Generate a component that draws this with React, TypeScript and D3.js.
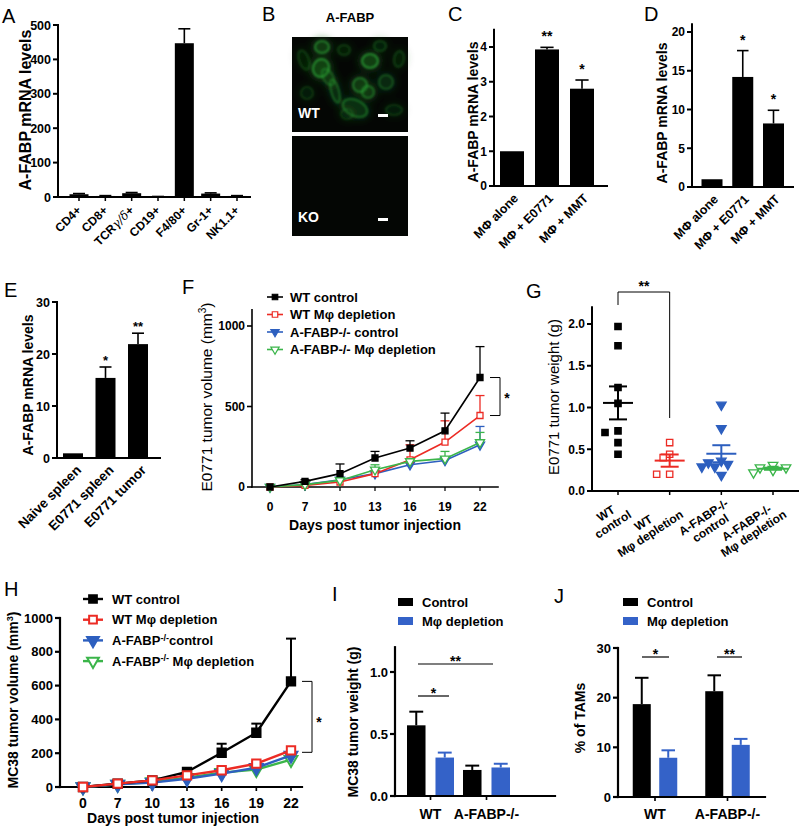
import React from "react";
import * as d3 from "d3";

const FONT = "'Liberation Sans', Arial, Helvetica, sans-serif";
const RED = "#ec2b24";
const BLUE = "#2d5fbf";
const GREEN = "#3bb54a";
const BARBLUE = "#3462c8";

// ---------- Panel A
const aCats = ["CD4+", "CD8+", "TCRγ/δ+", "CD19+", "F4/80+", "Gr-1+", "NK1.1+"];
const aVals = [8, 3, 11, 1, 447, 10, 3];
const aErr = [2, 1, 2, 0.5, 42, 2, 1];
const aTicks = [0, 100, 200, 300, 400, 500];

// ---------- Panel C
const cCats = ["MΦ alone", "MΦ + E0771", "MΦ + MMT"];
const cVals = [1, 3.93, 2.8];
const cErr = [0, 0.06, 0.25];
const cStars = ["", "**", "*"];
const cTicks = [0, 1, 2, 3, 4];

// ---------- Panel D
const dCats = ["MΦ alone", "MΦ + E0771", "MΦ + MMT"];
const dVals = [1, 14.2, 8.2];
const dErr = [0, 3.4, 1.7];
const dStars = ["", "*", "*"];
const dTicks = [0, 5, 10, 15, 20];

// ---------- Panel E
const eCats = ["Naive spleen", "E0771 spleen", "E0771 tumor"];
const eVals = [0.9, 15.4, 21.9];
const eErr = [0, 2.1, 2.1];
const eStars = ["", "*", "**"];
const eTicks = [0, 10, 20, 30];

// ---------- Panel F
const fDays = ["0", "7", "10", "13", "16", "19", "22"];
const fNames = ["WT control", "WT Mφ depletion", "A-FABP-/- control", "A-FABP-/- Mφ depletion"];
const fWT = [0, 35, 83, 180, 242, 349, 680];
const fWTErr = [0, 10, 60, 41, 45, 110, 192];
const fWTM = [0, 10, 31, 83, 169, 279, 444];
const fWTMErr = [0, 5, 10, 20, 93, 132, 124];
const fKO = [0, 15, 45, 83, 138, 165, 262];
const fKOErr = [0, 5, 10, 10, 15, 20, 114];
const fKOM = [0, 15, 41, 107, 159, 176, 277];
const fKOMErr = [0, 5, 10, 31, 15, 45, 62];
const fTicks = [0, 500, 1000];

// ---------- Panel G
const gCats = ["WT|control", "WT|Mφ depletion", "A-FABP-/-|control", "A-FABP-/-|Mφ depletion"];
const gWT = [1.97, 1.74, 1.24, 1.05, 0.72, 0.7, 0.58, 0.44];
const gWTM = [0.58, 0.44, 0.4, 0.2, 0.2];
const gKO = [1.03, 0.75, 0.36, 0.34, 0.32, 0.29, 0.29, 0.19];
const gKOM = [0.31, 0.28, 0.28, 0.26, 0.25, 0.22];
const gTicks = [0, 0.5, 1, 1.5, 2];

// ---------- Panel H
const hDays = ["0", "7", "10", "13", "16", "19", "22"];
const hNames = ["WT control", "WT Mφ depletion", "A-FABP^-/-^control", "A-FABP^-/-^ Mφ depletion"];
const hWT = [0, 20, 39, 89, 203, 321, 625];
const hWTErr = [0, 5, 8, 10, 53, 54, 253];
const hWTM = [0, 20, 39, 69, 99, 138, 217];
const hWTMErr = [0, 5, 5, 8, 10, 12, 15];
const hKO = [0, 16, 26, 49, 79, 114, 187];
const hKOErr = [0, 3, 5, 6, 8, 10, 12];
const hKOM = [0, 16, 30, 55, 85, 103, 162];
const hKOMErr = [0, 3, 5, 6, 8, 10, 12];
const hTicks = [0, 200, 400, 600, 800, 1000];

// ---------- Panels I & J
const ijGroups = ["WT", "A-FABP-/-"];
const ijSeries = ["Control", "Mφ depletion"];
const iControl = [0.57, 0.21];
const iControlErr = [0.11, 0.035];
const iDep = [0.31, 0.23];
const iDepErr = [0.04, 0.03];
const iTicks = [0, 0.5, 1.0];
const jControl = [18.7, 21.3];
const jControlErr = [5.3, 3.2];
const jDep = [7.9, 10.5];
const jDepErr = [1.5, 1.2];
const jTicks = [0, 10, 20, 30];

// ---------- Panel B micrograph cells (relative to image): cx, cy, rx, ry, brightness, rotation
const cells = [
  [30, 10, 7, 6, 1, 0], [29, 31, 8, 9, 1.1, 20], [78, 24, 8, 7, 1.1, 0], [68, 48, 7, 7, 0.9, 0],
  [76, 55, 6, 6, 0.8, 0], [94, 45, 7, 7, 0.6, 0], [107, 22, 5, 8, 0.4, 10], [12, 23, 5, 10, 0.4, -20],
  [43, 54, 4, 12, 0.7, -15], [63, 71, 13, 8, 0.75, 25], [55, 77, 6, 5, 0.35, 0], [102, 73, 8, 5, 0.35, 0],
  [15, 56, 6, 6, 0.35, 0], [52, 13, 6, 5, 0.4, 0], [88, 9, 6, 5, 0.45, 0], [36, 40, 5, 9, 0.6, -30],
];

function YAxis({ x, y, ticks, top, fs = 12, weight = "bold", sw = 2, fmt = (d: number) => String(d), tl = 5 }: any) {
  const d0 = y.domain()[0];
  return (
    <g>
      <line x1={x} x2={x} y1={y(d0)} y2={y(top)} stroke="#000" strokeWidth={sw} strokeLinecap="square" />
      {ticks.map((t: number) => (
        <g key={t}>
          <line x1={x - tl} x2={x} y1={y(t)} y2={y(t)} stroke="#000" strokeWidth={sw} />
          <text x={x - tl - 2} y={y(t)} dy="0.36em" textAnchor="end" fontSize={fs} fontWeight={weight}>{fmt(t)}</text>
        </g>
      ))}
    </g>
  );
}

function XBase({ y, x0, x1, ticks = [], sw = 2, tl = 4 }: any) {
  return (
    <g>
      <line x1={x0} x2={x1} y1={y} y2={y} stroke="#000" strokeWidth={sw} strokeLinecap="square" />
      {ticks.map((t: number, i: number) => (
        <line key={i} x1={t} x2={t} y1={y} y2={y + tl} stroke="#000" strokeWidth={sw * 0.75} />
      ))}
    </g>
  );
}

function BarsWithErr({ xs, vals, errs, y, w, fill = "#000", capW, sw = 1.6 }: any) {
  return (
    <g>
      {vals.map((v: number, i: number) => {
        const cx = xs[i];
        const top = y(v + errs[i]);
        return (
          <g key={i}>
            {errs[i] > 0 && (
              <g stroke={fill} strokeWidth={sw}>
                <line x1={cx} x2={cx} y1={y(v)} y2={top} />
                <line x1={cx - capW / 2} x2={cx + capW / 2} y1={top} y2={top} />
              </g>
            )}
            <rect x={cx - w / 2} y={y(v)} width={w} height={y(0) - y(v)} fill={fill} />
          </g>
        );
      })}
    </g>
  );
}

function labelParts(s: string) {
  const parts = s.split(/([γδ]\/[γδ])/);
  return parts.map((p, i) =>
    /[γδ]/.test(p) ? (
      <tspan key={i} fontFamily="'DejaVu Serif', serif" fontStyle="italic" fontWeight="normal">{p}</tspan>
    ) : (
      <tspan key={i}>{p}</tspan>
    )
  );
}

function RotLabels({ cats, xs, y, dx, angle = -45, fs = 12 }: any) {
  return (
    <g>
      {cats.map((c: string, i: number) => (
        <text key={i} transform={`translate(${xs[i] + dx},${y}) rotate(${angle})`} textAnchor="end" fontSize={fs} fontWeight="bold">
          {labelParts(c)}
        </text>
      ))}
    </g>
  );
}

function Stars({ xs, stars, y, vals, errs, off, fs = 14 }: any) {
  return (
    <g>
      {stars.map((s: string, i: number) =>
        s ? (
          <text key={i} x={xs[i]} y={y(vals[i] + errs[i]) - off} textAnchor="middle" fontSize={fs} fontWeight="bold">{s}</text>
        ) : null
      )}
    </g>
  );
}

function symPath(shape: string, size: number) {
  return d3.symbol().type(shape === "sq" ? d3.symbolSquare : d3.symbolTriangle).size(size)() as string;
}

function Marker({ x, y, shape, open, color, size, sw }: any) {
  const rot = shape === "tri" ? " rotate(180)" : "";
  return (
    <path d={symPath(shape, size)} transform={`translate(${x},${y})${rot}`} fill={open ? "#fff" : color} stroke={color} strokeWidth={sw} />
  );
}

function LinePanel({ days, series, x, y, capW, lw, msize, msw, esw }: any) {
  const line = d3.line<number>().x((_, i) => x(days[i])).y((d) => y(d));
  return (
    <g>
      {series.map((s: any, k: number) => (
        <g key={k}>
          {s.vals.map((v: number, i: number) =>
            s.errs[i] > 0 ? (
              <g key={i} stroke={s.color} strokeWidth={esw}>
                <line x1={x(days[i])} x2={x(days[i])} y1={y(v)} y2={y(v + s.errs[i])} />
                <line x1={x(days[i]) - capW / 2} x2={x(days[i]) + capW / 2} y1={y(v + s.errs[i])} y2={y(v + s.errs[i])} />
              </g>
            ) : null
          )}
          <path d={line(s.vals) as string} fill="none" stroke={s.color} strokeWidth={lw} />
          {s.vals.map((v: number, i: number) => (
            <Marker key={i} x={x(days[i])} y={y(v)} shape={s.shape} open={s.open} color={s.color} size={msize} sw={msw} />
          ))}
        </g>
      ))}
    </g>
  );
}

function renderName(n: string) {
  const parts = n.split("^");
  return parts.map((p, i) =>
    i === 1 ? (
      <tspan key={i} fontSize="0.7em" dy="-0.5em">{p}</tspan>
    ) : (
      <tspan key={i} dy={i === 2 ? "0.35em" : undefined}>{p}</tspan>
    )
  );
}

function Legend({ series, names, x, y0, step, lineW, textX, fs, lw, msize, msw }: any) {
  return (
    <g>
      {series.map((s: any, k: number) => {
        const yy = y0 + k * step;
        return (
          <g key={k}>
            <line x1={x} x2={x + lineW} y1={yy} y2={yy} stroke={s.color} strokeWidth={lw} />
            <Marker x={x + lineW / 2} y={yy} shape={s.shape} open={s.open} color={s.color} size={msize} sw={msw} />
            <text x={textX} y={yy} dy="0.36em" fontSize={fs} fontWeight="bold">{renderName(names[k])}</text>
          </g>
        );
      })}
    </g>
  );
}

function PanelA() {
  const x = d3.scalePoint<string>().domain(aCats).range([79, 237]);
  const y = d3.scaleLinear().domain([0, 500]).range([197, 25]);
  const xs = aCats.map((c) => x(c) as number);
  return (
    <g>
      <text x={2} y={23} fontSize={20}>A</text>
      <text transform="translate(31,110) rotate(-90)" textAnchor="middle" fontSize={16} fontWeight="bold">A-FABP mRNA levels</text>
      <BarsWithErr xs={xs} vals={aVals} errs={aErr} y={y} w={19} capW={12} />
      <YAxis x={58} y={y} ticks={aTicks} top={500} fs={12.5} />
      <XBase y={197} x0={58} x1={250} ticks={xs} />
      <RotLabels cats={aCats} xs={xs} y={211} dx={3} fs={12} />
    </g>
  );
}

function PanelB() {
  const img = (ox: number, oy: number, h: number, label: string, green: boolean) => (
    <g transform={`translate(${ox},${oy})`}>
      <rect width={116} height={h} fill="#040604" />
      {green && (
        <g>
          <g filter="url(#glowBig)">
            {cells.map((c, i) => (
              <ellipse key={i} cx={c[0]} cy={c[1]} rx={c[2] + 5} ry={c[3] + 5} transform={`rotate(${c[5]},${c[0]},${c[1]})`} fill="#175c1c" fillOpacity={0.3 * c[4]} />
            ))}
          </g>
          <g filter="url(#glow)">
            {cells.map((c, i) => (
              <ellipse key={i} cx={c[0]} cy={c[1]} rx={c[2]} ry={c[3]} transform={`rotate(${c[5]},${c[0]},${c[1]})`} fill="#1b7a25" fillOpacity={0.28 * c[4]} stroke="#2ea838" strokeOpacity={Math.min(0.9, 0.65 * c[4])} strokeWidth={2.2} />
            ))}
          </g>
        </g>
      )}
      <text x={6} y={h - 14} fill="#fff" fontSize={14} fontWeight="bold">{label}</text>
      <rect x={86} y={h - 18} width={10} height={3} fill="#fff" />
    </g>
  );
  return (
    <g>
      <text x={262} y={21} fontSize={20}>B</text>
      <text x={350} y={22} textAnchor="middle" fontSize={13} fontWeight="bold">A-FABP</text>
      {img(292, 37, 95, "WT", true)}
      {img(292, 136, 100, "KO", false)}
    </g>
  );
}

function SmallBarPanel({ letter, lx, cats, vals, errs, stars, ticks, top, axisX, xEnd, centers, y0, yTop, bw, labelX, labelY }: any) {
  const x = d3.scalePoint<string>().domain(cats).range(centers);
  const y = d3.scaleLinear().domain([0, ticks[ticks.length - 1]]).range([y0, yTop]);
  const xs = cats.map((c: string) => x(c) as number);
  return (
    <g>
      <text x={lx} y={21} fontSize={20}>{letter}</text>
      <text transform={`translate(${labelX},${labelY}) rotate(-90)`} textAnchor="middle" fontSize={14} fontWeight="bold">A-FABP mRNA levels</text>
      <BarsWithErr xs={xs} vals={vals} errs={errs} y={y} w={bw} capW={bw * 0.55} />
      <YAxis x={axisX} y={y} ticks={ticks} top={top} fs={12} />
      <XBase y={y0} x0={axisX} x1={xEnd} ticks={[]} />
      <Stars xs={xs} stars={stars} y={y} vals={vals} errs={errs} off={6} fs={14} />
      <RotLabels cats={cats} xs={xs} y={y0 + 13} dx={7} fs={12.5} />
    </g>
  );
}

function PanelE() {
  const x = d3.scalePoint<string>().domain(eCats).range([73, 138]);
  const y = d3.scaleLinear().domain([0, 30]).range([458, 302]);
  const xs = eCats.map((c) => x(c) as number);
  return (
    <g>
      <text x={4} y={297} fontSize={20}>E</text>
      <text transform="translate(33,385) rotate(-90)" textAnchor="middle" fontSize={14} fontWeight="bold">A-FABP mRNA levels</text>
      <BarsWithErr xs={xs} vals={eVals} errs={eErr} y={y} w={20} capW={12} />
      <YAxis x={57} y={y} ticks={eTicks} top={30} fs={12.5} />
      <XBase y={458} x0={57} x1={160} ticks={[]} />
      <Stars xs={xs} stars={eStars} y={y} vals={eVals} errs={eErr} off={2} fs={13} />
      <RotLabels cats={eCats} xs={xs} y={471} dx={9} fs={13.5} />
    </g>
  );
}

function PanelF() {
  const x = d3.scalePoint<string>().domain(fDays).range([270, 480]);
  const y = d3.scaleLinear().domain([0, 1000]).range([487, 326]);
  const series = [
    { vals: fKO, errs: fKOErr, color: BLUE, shape: "tri", open: false },
    { vals: fWTM, errs: fWTMErr, color: RED, shape: "sq", open: true },
    { vals: fKOM, errs: fKOMErr, color: GREEN, shape: "tri", open: true },
    { vals: fWT, errs: fWTErr, color: "#000", shape: "sq", open: false },
  ];
  const legendSeries = [series[3], series[1], series[0], series[2]];
  return (
    <g>
      <text x={182} y={294} fontSize={20}>F</text>
      <text transform="translate(212,397) rotate(-90)" textAnchor="middle" fontSize={15.5}>
        E0771 tumor volume (mm<tspan fontSize="0.65em" dy="-0.6em">3</tspan><tspan dy="0.39em">)</tspan>
      </text>
      <YAxis x={252} y={y} ticks={fTicks} top={1100} fs={12} sw={1.6} />
      <XBase y={487} x0={252} x1={498} ticks={fDays.map((d) => x(d) as number)} sw={1.6} />
      {fDays.map((d) => (
        <text key={d} x={x(d)} y={511} textAnchor="middle" fontSize={12} fontWeight="bold">{d}</text>
      ))}
      <text x={375} y={530} textAnchor="middle" fontSize={14} fontWeight="bold">Days post tumor injection</text>
      <LinePanel days={fDays} series={series} x={x} y={y} capW={9} lw={1.6} msize={36} msw={1.3} esw={1.3} />
      <g stroke="#000" strokeWidth={1} fill="none">
        <path d={`M490,${y(fWT[6])}H500V${y(fWTM[6])}H490`} />
      </g>
      <text x={507} y={403} textAnchor="middle" fontSize={14} fontWeight="bold">*</text>
      <Legend series={legendSeries} names={fNames} x={267} y0={297} step={17.5} lineW={16} textX={290} fs={13} lw={1.6} msize={30} msw={1.2} />
    </g>
  );
}

function dodge(vals: number[], y: any, minD: number, stepX: number) {
  const placed: { yy: number; dx: number }[] = [];
  return vals.map((v) => {
    const yy = y(v);
    const cands = [0, -1, 1, -2, 2, -3, 3];
    let chosen = 0;
    for (const c of cands) {
      const dx = c * stepX;
      if (placed.every((p) => Math.hypot(p.yy - yy, p.dx - dx) >= minD)) {
        chosen = dx;
        break;
      }
    }
    placed.push({ yy, dx: chosen });
    return chosen;
  });
}

function PanelG() {
  const x = d3.scalePoint<string>().domain(gCats).range([618, 773]);
  const y = d3.scaleLinear().domain([0, 2]).range([491, 324]);
  const groups = [
    { vals: gWT, color: "#000", shape: "sq", open: false },
    { vals: gWTM, color: RED, shape: "sq", open: true },
    { vals: gKO, color: BLUE, shape: "tri", open: false },
    { vals: gKOM, color: GREEN, shape: "tri", open: true },
  ];
  const fmt = d3.format(".1f");
  return (
    <g>
      <text x={526} y={298} fontSize={20}>G</text>
      <text transform="translate(559,397) rotate(-90)" textAnchor="middle" fontSize={15}>E0771 tumor weight (g)</text>
      <YAxis x={592} y={y} ticks={gTicks} top={2.2} fs={12} fmt={fmt} />
      <XBase y={491} x0={592} x1={798} ticks={gCats.map((c) => x(c) as number)} />
      {groups.map((g, k) => {
        const cx = x(gCats[k]) as number;
        const mean = d3.mean(g.vals) as number;
        const sd = d3.deviation(g.vals) as number;
        const sem = sd / Math.sqrt(g.vals.length);
        const offs = dodge(g.vals, y, 7, 6.5);
        return (
          <g key={k}>
            {g.vals.map((v, i) => (
              <Marker key={i} x={cx + offs[i]} y={y(v)} shape={g.shape} open={g.open} color={g.color} size={40} sw={1.3} />
            ))}
            <g stroke={g.color} strokeWidth={2}>
              <line x1={cx - 15} x2={cx + 15} y1={y(mean)} y2={y(mean)} />
              <line x1={cx - 9} x2={cx + 9} y1={y(mean + sem)} y2={y(mean + sem)} />
              <line x1={cx - 9} x2={cx + 9} y1={y(mean - sem)} y2={y(mean - sem)} />
              <line x1={cx} x2={cx} y1={y(mean + sem)} y2={y(mean - sem)} />
            </g>
          </g>
        );
      })}
      <path d={`M${x(gCats[0])},305V292H${x(gCats[1])}V418`} fill="none" stroke="#000" strokeWidth={1} />
      <text x={644} y={291} textAnchor="middle" fontSize={14} fontWeight="bold">**</text>
      {gCats.map((c, k) => {
        const lines = c.split("|");
        const maxLen = Math.max(...lines.map((l) => l.length));
        const cxp = -maxLen * 3.4;
        return (
          <text key={k} transform={`translate(${(x(c) as number) + 10},${504}) rotate(-33)`} fontSize={12} fontWeight="bold" textAnchor="middle">
            {lines.map((l, i) => (
              <tspan key={i} x={cxp} dy={i === 0 ? 0 : 13}>{l}</tspan>
            ))}
          </text>
        );
      })}
    </g>
  );
}

function PanelH() {
  const x = d3.scalePoint<string>().domain(hDays).range([83, 291]);
  const y = d3.scaleLinear().domain([0, 1000]).range([787, 618]);
  const series = [
    { vals: hKOM, errs: hKOMErr, color: GREEN, shape: "tri", open: true },
    { vals: hKO, errs: hKOErr, color: BLUE, shape: "tri", open: false },
    { vals: hWT, errs: hWTErr, color: "#000", shape: "sq", open: false },
    { vals: hWTM, errs: hWTMErr, color: RED, shape: "sq", open: true },
  ];
  const legendSeries = [series[2], series[3], series[1], series[0]];
  return (
    <g>
      <text x={4} y={596} fontSize={20}>H</text>
      <text transform="translate(18,700) rotate(-90)" textAnchor="middle" fontSize={14} fontWeight="bold">
        MC38 tumor volume (mm<tspan fontSize="0.65em" dy="-0.6em">3</tspan><tspan dy="0.39em">)</tspan>
      </text>
      <YAxis x={60} y={y} ticks={hTicks} top={1000} fs={13} sw={2.2} />
      <XBase y={787} x0={60} x1={302} ticks={hDays.map((d) => x(d) as number)} sw={2.2} />
      {hDays.map((d) => (
        <text key={d} x={x(d)} y={808} textAnchor="middle" fontSize={14} fontWeight="bold">{d}</text>
      ))}
      <text x={173} y={823} textAnchor="middle" fontSize={14} fontWeight="bold">Days post tumor injection</text>
      <LinePanel days={hDays} series={series} x={x} y={y} capW={10} lw={2.4} msize={70} msw={2} esw={2} />
      <path d={`M302,${y(hWT[6])}H312V${y(hWTM[6]) + 2}H302`} fill="none" stroke="#000" strokeWidth={1} />
      <text x={319} y={727} textAnchor="middle" fontSize={14} fontWeight="bold">*</text>
      <Legend series={legendSeries} names={hNames} x={83} y0={599} step={20.7} lineW={20} textX={112} fs={13} lw={2.4} msize={60} msw={2} />
    </g>
  );
}

function GroupBars({ letter, lx, ly, yLabel, ylx, yly, groups, ctrl, ctrlErr, dep, depErr, ticks, top, fmt, axisX, xEnd, y0, yTop, centers, half, padIn, legendX, sigs }: any) {
  const gx = d3.scalePoint<string>().domain(groups).range(centers);
  const inner = d3.scaleBand<string>().domain(ijSeries).range([-half, half]).paddingInner(padIn);
  const y = d3.scaleLinear().domain([0, ticks[ticks.length - 1]]).range([y0, yTop]);
  const bw = inner.bandwidth();
  const colors = ["#000", BARBLUE];
  const data = [
    [ctrl, ctrlErr],
    [dep, depErr],
  ];
  return (
    <g>
      <text x={lx} y={ly} fontSize={20}>{letter}</text>
      <text transform={`translate(${ylx},${yly}) rotate(-90)`} textAnchor="middle" fontSize={14} fontWeight="bold">{yLabel}</text>
      {data.map((d, s) => (
        <BarsWithErr key={s} xs={groups.map((g: string) => (gx(g) as number) + (inner(ijSeries[s]) as number) + bw / 2)} vals={d[0]} errs={d[1]} y={y} w={bw} fill={colors[s]} capW={bw * 0.75} sw={2} />
      ))}
      <YAxis x={axisX} y={y} ticks={ticks} top={top} fs={13} sw={2.2} fmt={fmt} />
      <XBase y={y0} x0={axisX} x1={xEnd} ticks={groups.map((g: string) => gx(g) as number)} sw={2.2} />
      {groups.map((g: string) => (
        <text key={g} x={gx(g)} y={819} textAnchor="middle" fontSize={14} fontWeight="bold">{g}</text>
      ))}
      {ijSeries.map((s, k) => (
        <g key={s}>
          <rect x={legendX} y={598 + k * 19} width={15} height={8} fill={colors[k]} />
          <text x={legendX + 24} y={602 + k * 19} dy="0.36em" fontSize={13} fontWeight="bold">{s}</text>
        </g>
      ))}
      {sigs.map((s: any, k: number) => (
        <g key={k}>
          <line x1={s.x0} x2={s.x1} y1={s.y} y2={s.y} stroke="#000" strokeWidth={1.2} />
          <text x={(s.x0 + s.x1) / 2} y={s.y + 2} textAnchor="middle" fontSize={14} fontWeight="bold">{s.t}</text>
        </g>
      ))}
    </g>
  );
}

export default function App() {
  return (
    <svg width={800} height={827} viewBox="0 0 800 827" style={{ position: "absolute", left: 0, top: 0, background: "#fff" }} fontFamily={FONT}>
      <defs>
        <filter id="glow" x="-30%" y="-30%" width="160%" height="160%">
          <feGaussianBlur stdDeviation="1" />
        </filter>
        <filter id="glowBig" x="-50%" y="-50%" width="200%" height="200%">
          <feGaussianBlur stdDeviation="3" />
        </filter>
      </defs>
      <rect width={800} height={827} fill="#fff" />
      <PanelA />
      <PanelB />
      <SmallBarPanel letter="C" lx={448} cats={cCats} vals={cVals} errs={cErr} stars={cStars} ticks={cTicks} top={4.5} axisX={494} xEnd={607} centers={[512, 582]} y0={186} yTop={47} bw={24} labelX={478} labelY={112} />
      <SmallBarPanel letter="D" lx={644} cats={dCats} vals={dVals} errs={dErr} stars={dStars} ticks={dTicks} top={21} axisX={692} xEnd={793} centers={[712, 773.5]} y0={187} yTop={32} bw={21} labelX={667} labelY={113} />
      <PanelE />
      <PanelF />
      <PanelG />
      <PanelH />
      <GroupBars letter="I" lx={332} ly={601} yLabel="MC38 tumor weight (g)" ylx={358} yly={722} groups={ijGroups} ctrl={iControl} ctrlErr={iControlErr} dep={iDep} depErr={iDepErr} ticks={iTicks} top={1.2} fmt={d3.format(".1f")} axisX={395} xEnd={555} y0={796} yTop={672} centers={[430.5, 486.5]} half={23.5} padIn={0.35} legendX={398}
        sigs={[{ x0: 418, x1: 449, y: 696, t: "*" }, { x0: 418, x1: 493, y: 664, t: "**" }]} />
      <GroupBars letter="J" lx={554} ly={603} yLabel="% of TAMs" ylx={585} yly={718} groups={ijGroups} ctrl={jControl} ctrlErr={jControlErr} dep={jDep} depErr={jDepErr} ticks={jTicks} top={30} fmt={(d: number) => String(d)} axisX={618} xEnd={765} y0={797} yTop={648} centers={[655, 727.5]} half={22.25} padIn={0.32} legendX={623}
        sigs={[{ x0: 642, x1: 669, y: 657, t: "*" }, { x0: 717, x1: 742, y: 657, t: "**" }]} />
    </svg>
  );
}
